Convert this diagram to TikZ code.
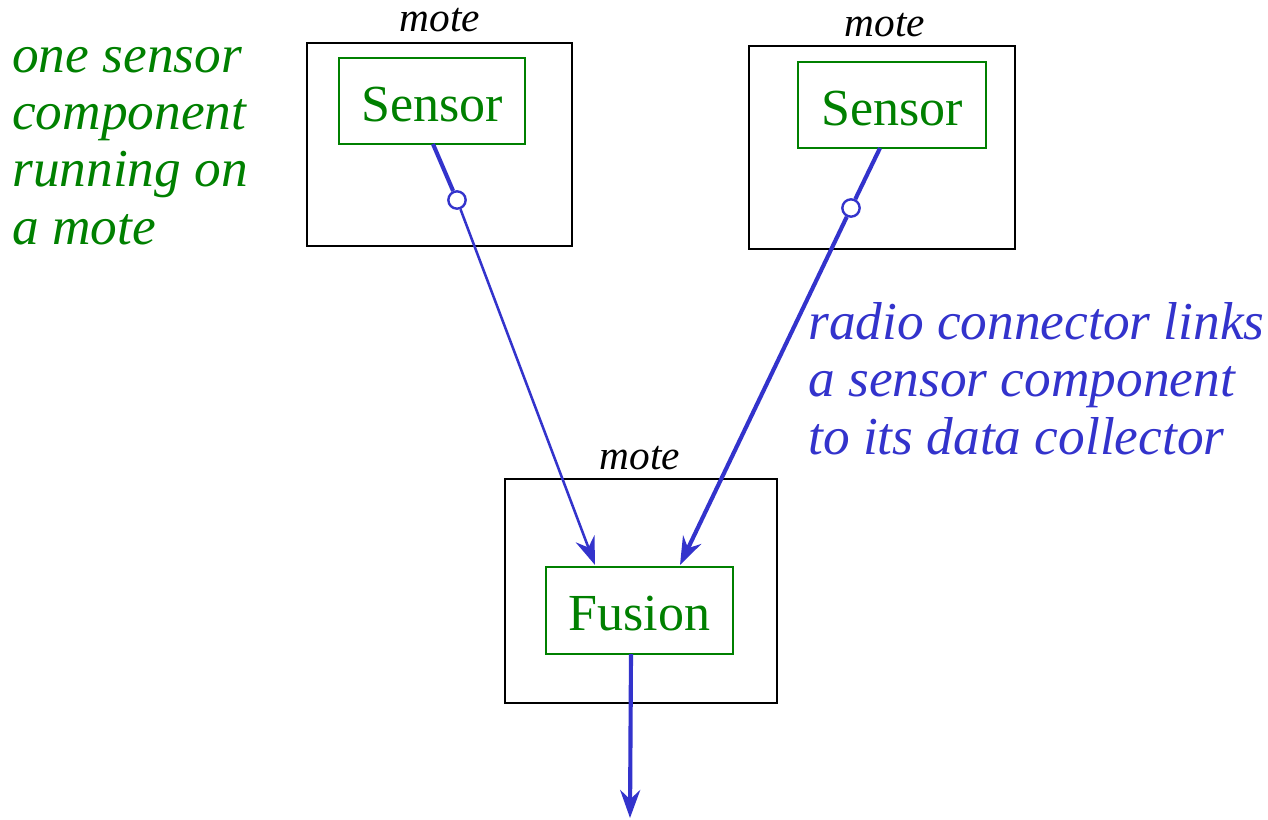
\documentclass[tikz,border=0pt]{standalone}
\usepackage{fontspec}
\setmainfont{Liberation Serif}
\usetikzlibrary{arrows.meta}
\definecolor{compgreen}{RGB}{0,128,0}
\definecolor{linkblue}{RGB}{51,51,204}
\tikzset{
  motebox/.style={draw=black, line width=2.2pt, inner sep=0, fill=white},
  compbox/.style={draw=compgreen, line width=1.9pt, text=compgreen, inner sep=0,
    font=\fontsize{39}{43}\selectfont, text depth=0pt},
  motelabel/.style={font=\fontsize{31}{34}\selectfont\itshape, inner sep=0},
  port/.style={circle, draw=linkblue, line width=1.8pt, minimum size=13pt, inner sep=0, fill=white},
  thicklink/.style={draw=linkblue, line width=3.1pt},
  thinlink/.style={draw=linkblue, line width=1.9pt},
  tip/.style={-{Stealth[length=21pt, width=15pt, inset=7pt]}},
  note/.style={font=\fontsize{40}{43}\selectfont\itshape, align=left, inner sep=0, anchor=base west}
}
\begin{document}
\begin{tikzpicture}[x=0.75pt, y=-0.75pt]
\useasboundingbox (0,0) rectangle (1268,819);

% the three motes
\node[motebox, minimum width=198.75pt, minimum height=152.25pt] (mote1) at (439.5,144.5) {};
\node[motebox, minimum width=199.5pt, minimum height=152.25pt] (mote2) at (882,147.5) {};
\node[motebox, minimum width=204pt, minimum height=168pt] (mote3) at (641,591) {};
\node[motelabel] (lab1) at (440,20) {mote};
\node[motelabel] (lab2) at (885,25) {mote};
\node[motelabel] (lab3) at (640,458) {mote};

% components (a tall text box sets each label a little below the box centre)
\node[compbox, text height=30.5pt, minimum width=139.5pt, minimum height=64.5pt] (sens1) at (432,101) {Sensor};
\node[compbox, text height=30.5pt, minimum width=141pt, minimum height=64.5pt] (sens2) at (892,105) {Sensor};
\node[compbox, text height=29.5pt, minimum width=140.25pt, minimum height=65.25pt] (fusion) at (639.5,610.5) {Fusion};

% radio ports
\node[port] (p1) at (457,200) {};
\node[port] (p2) at (851,208) {};

% connector end points
\coordinate (s1out) at (433,144);
\coordinate (s2out) at (880,148);
\coordinate (fin1) at (595,565);
\coordinate (fin2) at (680,565);
\coordinate (fout) at (631,654);
\coordinate (sink) at (630,818);

\draw[thicklink] (s1out) -- (p1);
\draw[thinlink, tip] (p1) -- (fin1);
\draw[thicklink] (s2out) -- (p2);
\draw[thicklink, tip] (p2) -- (fin2);
\draw[thicklink, tip] (fout) -- (sink);

% annotations
\node[note, text=compgreen] (note1) at (12,244) {one sensor\\component\\running on\\a mote};
\node[note, text=linkblue] (note2) at (808,454) {radio connector links\\a sensor component\\to its data collector};
\end{tikzpicture}
\end{document}
